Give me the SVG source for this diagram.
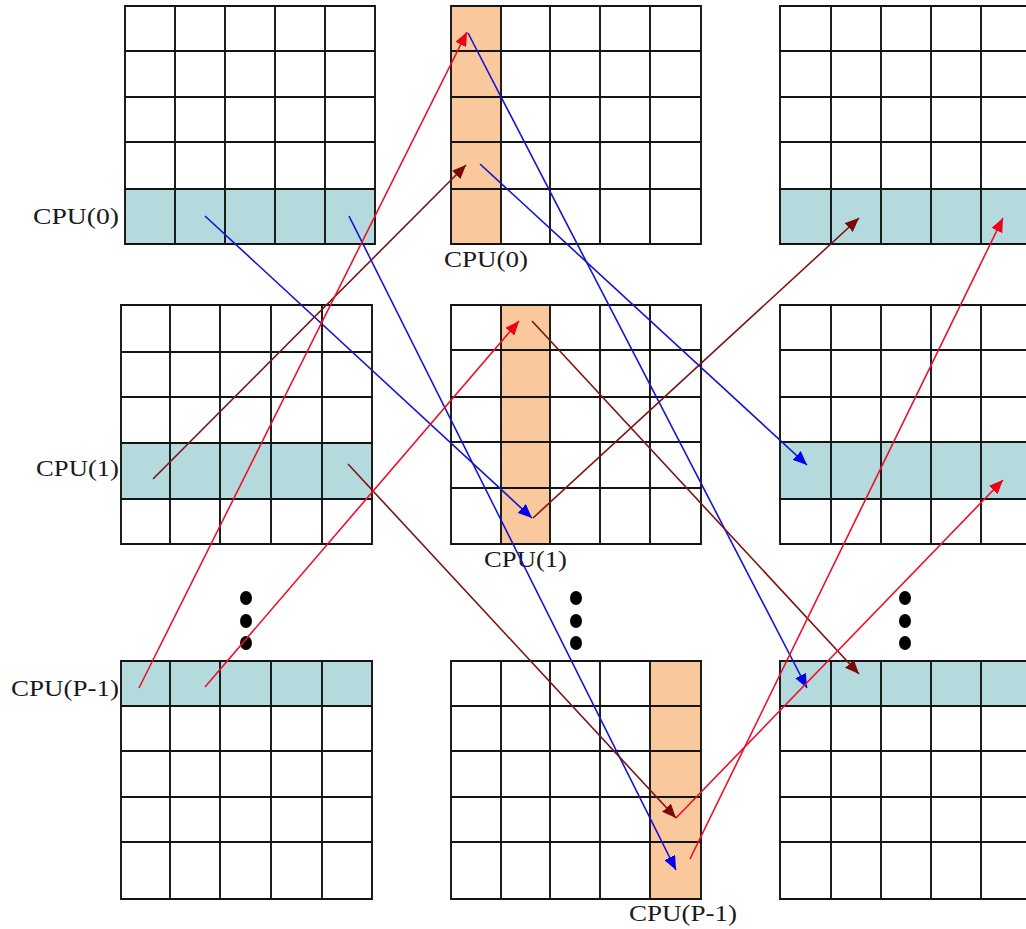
<svg xmlns="http://www.w3.org/2000/svg" width="1026" height="929" viewBox="0 0 1026 929">
<defs>
<style>
.g{fill:none;stroke:#141414;stroke-width:1.9}
.blue{fill:#b5dadd}
.org{fill:#f9c89d}
.lbl{font-family:"Liberation Serif","Times New Roman",serif;font-size:24px;fill:#1a1a1a}
.ab{stroke:#1414d2;stroke-width:1.6;fill:none;marker-end:url(#hb)}
.am{stroke:#7a1414;stroke-width:1.6;fill:none;marker-end:url(#hm)}
.ar{stroke:#ec0f2a;stroke-width:1.6;fill:none;marker-end:url(#hr)}
.dot{fill:#000}
</style>
<marker id="hb" markerUnits="userSpaceOnUse" markerWidth="16" markerHeight="12" refX="14" refY="6" orient="auto"><path d="M0,0 L14,6 L0,12 z" fill="#0000ee"/></marker>
<marker id="hm" markerUnits="userSpaceOnUse" markerWidth="16" markerHeight="12" refX="14" refY="6" orient="auto"><path d="M0,0 L14,6 L0,12 z" fill="#7a0a0a"/></marker>
<marker id="hr" markerUnits="userSpaceOnUse" markerWidth="16" markerHeight="12" refX="14" refY="6" orient="auto"><path d="M0,0 L14,6 L0,12 z" fill="#f00018"/></marker>
</defs>
<rect width="1026" height="929" fill="#fff"/>

<g id="grid-top-left">
<rect class="blue" x="125" y="189" width="250" height="55"/>
<path class="g" d="M125,6H375V244H125Z M175,6V244 M225,6V244 M275,6V244 M325,6V244 M125,51H375 M125,97H375 M125,142H375 M125,189H375"/>
</g>
<g id="grid-top-middle">
<rect class="org" x="451" y="6" width="50" height="238"/>
<path class="g" d="M451,6H701V244H451Z M501,6V244 M550,6V244 M600,6V244 M650,6V244 M451,51H701 M451,97H701 M451,142H701 M451,189H701"/>
</g>
<g id="grid-top-right">
<rect class="blue" x="780" y="189" width="251" height="55"/>
<path class="g" d="M780,6H1031V244H780Z M831,6V244 M881,6V244 M931,6V244 M981,6V244 M780,51H1031 M780,97H1031 M780,142H1031 M780,189H1031"/>
</g>

<g id="grid-mid-left">
<rect class="blue" x="121" y="443" width="251" height="56"/>
<path class="g" d="M121,305H372V544H121Z M170,305V544 M220,305V544 M271,305V544 M322,305V544 M121,352H372 M121,397H372 M121,443H372 M121,499H372"/>
</g>
<g id="grid-mid-middle">
<rect class="org" x="501" y="305" width="49" height="239"/>
<path class="g" d="M451,305H701V544H451Z M501,305V544 M550,305V544 M600,305V544 M650,305V544 M451,350H701 M451,397H701 M451,442H701 M451,488H701"/>
</g>
<g id="grid-mid-right">
<rect class="blue" x="780" y="442" width="251" height="57"/>
<path class="g" d="M780,305H1031V544H780Z M831,305V544 M881,305V544 M931,305V544 M981,305V544 M780,350H1031 M780,397H1031 M780,442H1031 M780,499H1031"/>
</g>

<g id="grid-bot-left">
<rect class="blue" x="121" y="661" width="251" height="45"/>
<path class="g" d="M121,661H372V899H121Z M170,661V899 M220,661V899 M271,661V899 M322,661V899 M121,706H372 M121,751H372 M121,797H372 M121,842H372"/>
</g>
<g id="grid-bot-middle">
<rect class="org" x="650" y="661" width="51" height="238"/>
<path class="g" d="M451,661H701V899H451Z M501,661V899 M550,661V899 M600,661V899 M650,661V899 M451,706H701 M451,751H701 M451,797H701 M451,842H701"/>
</g>
<g id="grid-bot-right">
<rect class="blue" x="780" y="661" width="251" height="45"/>
<path class="g" d="M780,661H1031V899H780Z M831,661V899 M881,661V899 M931,661V899 M981,661V899 M780,706H1031 M780,751H1031 M780,797H1031 M780,842H1031"/>
</g>

<g id="labels">
<text class="lbl" x="33" y="224" textLength="86" lengthAdjust="spacingAndGlyphs">CPU(0)</text>
<text class="lbl" x="444" y="267" textLength="84" lengthAdjust="spacingAndGlyphs">CPU(0)</text>
<text class="lbl" x="36" y="476" textLength="83" lengthAdjust="spacingAndGlyphs">CPU(1)</text>
<text class="lbl" x="484" y="567" textLength="83" lengthAdjust="spacingAndGlyphs">CPU(1)</text>
<text class="lbl" x="11" y="696" textLength="108" lengthAdjust="spacingAndGlyphs">CPU(P-1)</text>
<text class="lbl" x="629" y="921" textLength="108" lengthAdjust="spacingAndGlyphs">CPU(P-1)</text>
</g>

<g id="dots">
<ellipse class="dot" cx="246" cy="598" rx="6" ry="7"/>
<ellipse class="dot" cx="246" cy="621" rx="6" ry="7"/>
<ellipse class="dot" cx="246" cy="643" rx="6" ry="7"/>
<ellipse class="dot" cx="576" cy="598" rx="6" ry="7"/>
<ellipse class="dot" cx="576" cy="621" rx="6" ry="7"/>
<ellipse class="dot" cx="576" cy="643" rx="6" ry="7"/>
<ellipse class="dot" cx="905" cy="598" rx="6" ry="7"/>
<ellipse class="dot" cx="905" cy="621" rx="6" ry="7"/>
<ellipse class="dot" cx="905" cy="643" rx="6" ry="7"/>
</g>

<g id="connectors">
<line class="ab" x1="205" y1="216" x2="532" y2="518"/>
<line class="ab" x1="349" y1="216" x2="676" y2="870"/>
<line class="ab" x1="468" y1="33" x2="807" y2="688"/>
<line class="ab" x1="480" y1="164" x2="807" y2="465"/>
<line class="am" x1="153" y1="479" x2="466" y2="165"/>
<line class="am" x1="348" y1="464" x2="676" y2="818"/>
<line class="am" x1="533" y1="518" x2="859" y2="218"/>
<line class="am" x1="532" y1="321" x2="859" y2="674"/>
<line class="ar" x1="139" y1="688" x2="467" y2="32"/>
<line class="ar" x1="205" y1="687" x2="519" y2="321"/>
<line class="ar" x1="676" y1="818" x2="1003" y2="480"/>
<line class="ar" x1="690" y1="859" x2="1003" y2="218"/>
</g>
</svg>
